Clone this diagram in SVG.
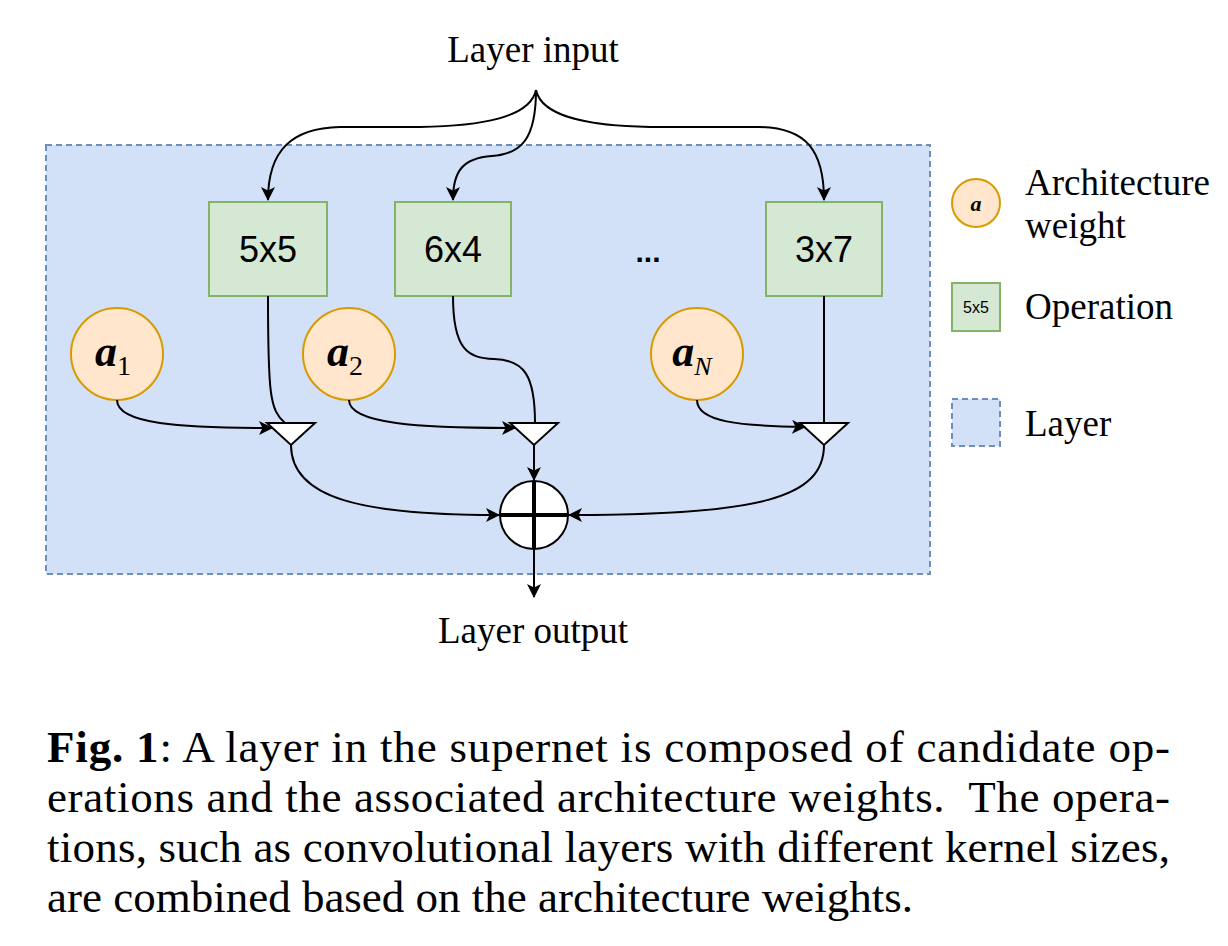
<svg xmlns="http://www.w3.org/2000/svg" width="1228" height="946" viewBox="0 0 1228 946">
<defs>
<marker id="arr" viewBox="0 0 14 14" refX="13" refY="7" markerWidth="14" markerHeight="14" markerUnits="userSpaceOnUse" orient="auto">
<path d="M0,0 L14,7 L0,14 L3.5,7 Z" fill="#000"/>
</marker>
<style>
.serif{font-family:"Liberation Serif","Times New Roman",serif;fill:#000}
.sans{font-family:"Liberation Sans",Arial,sans-serif;fill:#000}
.op{fill:#d5e8d4;stroke:#82b366;stroke-width:2}
.aw{fill:#ffe6cc;stroke:#d79b00;stroke-width:2}
.layer{fill:#d3e1f8;stroke:#6c8ebf;stroke-width:2;stroke-dasharray:6 4}
.edge{fill:none;stroke:#000;stroke-width:2}
.tri{fill:#fff;stroke:#000;stroke-width:2}
</style>
</defs>
<rect width="1228" height="946" fill="#fff"/>
<g id="layer"><rect class="layer" x="46" y="145" width="884" height="429"/></g>
<g id="input-label"><text class="serif" x="533" y="62" font-size="37" text-anchor="middle">Layer input</text></g>
<g id="op-5x5"><rect class="op" x="209" y="202" width="118" height="94"/><text class="sans" x="268" y="262" font-size="36" text-anchor="middle">5x5</text></g>
<g id="op-6x4"><rect class="op" x="395" y="202" width="116" height="94"/><text class="sans" x="453" y="262" font-size="36" text-anchor="middle">6x4</text></g>
<g id="op-3x7"><rect class="op" x="766" y="202" width="116" height="94"/><text class="sans" x="824" y="262" font-size="36" text-anchor="middle">3x7</text></g>
<g id="dots"><text class="sans" x="648" y="262" font-size="30" text-anchor="middle" font-weight="bold">...</text></g>
<g id="a1"><circle class="aw" cx="117" cy="354" r="46"/><text class="serif" x="113" y="366" font-size="44" font-style="italic" font-weight="bold" text-anchor="middle">a<tspan font-size="28" font-weight="normal" font-style="normal" dy="9">1</tspan></text></g>
<g id="a2"><circle class="aw" cx="349" cy="354" r="46"/><text class="serif" x="345" y="366" font-size="44" font-style="italic" font-weight="bold" text-anchor="middle">a<tspan font-size="28" font-weight="normal" font-style="normal" dy="9">2</tspan></text></g>
<g id="aN"><circle class="aw" cx="697" cy="354" r="46"/><text class="serif" x="692" y="366" font-size="44" font-style="italic" font-weight="bold" text-anchor="middle">a<tspan font-size="26" font-weight="normal" dy="9">N</tspan></text></g>
<g id="mul1"><path class="tri" d="M267,423 L315,423 L291,445 Z"/></g>
<g id="mul2"><path class="tri" d="M510,423 L558,423 L534,445 Z"/></g>
<g id="mul3"><path class="tri" d="M800,423 L848,423 L824,445 Z"/></g>
<g id="sum"><circle cx="534" cy="515" r="34" fill="#fff" stroke="#000" stroke-width="2"/><path d="M500,515 H568 M534,481 V549" stroke="#000" stroke-width="4"/></g>
<g id="output-label"><text class="serif" x="533" y="643" font-size="37" text-anchor="middle">Layer output</text></g>
<g id="connectors">
<path class="edge" marker-end="url(#arr)" d="M536,90 C530,118 480,126 420,127 L340,127 C292,128 268,150 268,200"/>
<path class="edge" marker-end="url(#arr)" d="M536,90 C536,138 522,154 492,156 C462,158 453,172 453,200"/>
<path class="edge" marker-end="url(#arr)" d="M536,90 C542,118 592,126 650,127 L760,127 C806,128 824,150 824,200"/>
<path class="edge" d="M268,296 C268,395 270,410 285,423"/>
<path class="edge" d="M453,296 C453,350 468,358 494,359 C524,360 535,375 535,423"/>
<path class="edge" d="M824,296 L824,423"/>
<path class="edge" marker-end="url(#arr)" d="M117,400 C117,424 180,428 272,428"/>
<path class="edge" marker-end="url(#arr)" d="M349,400 C349,424 420,428 515,428"/>
<path class="edge" marker-end="url(#arr)" d="M697,400 C697,422 740,426 805,427"/>
<path class="edge" marker-end="url(#arr)" d="M291,445 C291,498 360,515 499,515"/>
<path class="edge" marker-end="url(#arr)" d="M534,445 L534,480"/>
<path class="edge" marker-end="url(#arr)" d="M824,445 C824,498 760,515 569,515"/>
<path class="edge" marker-end="url(#arr)" d="M534,549 L534,597"/>
</g>
<g id="legend-weight"><circle class="aw" cx="976" cy="203" r="24"/><text class="serif" x="976" y="211" font-size="22" font-style="italic" font-weight="bold" text-anchor="middle">a</text><text class="serif" x="1025" y="195" font-size="37">Architecture</text><text class="serif" x="1025" y="238" font-size="37">weight</text></g>
<g id="legend-op"><rect class="op" x="952" y="283" width="48" height="48"/><text class="sans" x="976" y="313" font-size="16" text-anchor="middle">5x5</text><text class="serif" x="1025" y="319" font-size="37">Operation</text></g>
<g id="legend-layer"><rect class="layer" x="952" y="399" width="48" height="47"/><text class="serif" x="1025" y="436" font-size="37">Layer</text></g>
<g id="caption" class="serif" font-size="45">
<text x="47" y="762" textLength="1123" lengthAdjust="spacing"><tspan font-weight="bold">Fig. 1</tspan>: A layer in the supernet is composed of candidate op-</text>
<text x="47" y="812" textLength="1123" lengthAdjust="spacing">erations and the associated architecture weights.&#160; The opera-</text>
<text x="47" y="862" textLength="1123" lengthAdjust="spacing">tions, such as convolutional layers with different kernel sizes,</text>
<text x="47" y="912">are combined based on the architecture weights.</text>
</g>
</svg>
